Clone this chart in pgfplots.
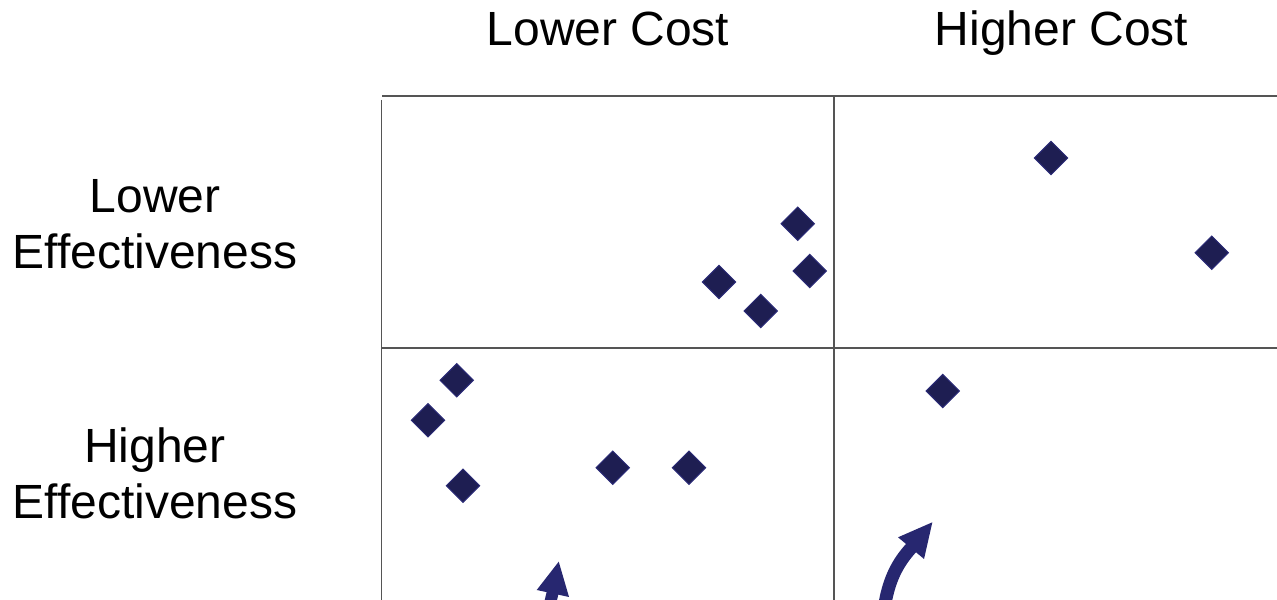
\documentclass[border=0pt]{standalone}
\usepackage{pgfplots}
\pgfplotsset{compat=1.18}
\usepackage{fontspec}
\setmainfont[Ligatures=NoCommon]{Liberation Sans}
\definecolor{markfill}{RGB}{30,30,82}
\definecolor{markedge}{RGB}{42,42,118}
\definecolor{arrowc}{RGB}{39,39,112}
\definecolor{gridc}{RGB}{85,85,85}
\begin{document}
\begin{tikzpicture}[x=0.5bp,y=0.5bp]
\begin{axis}[
  at={(381,0)}, anchor=south west,
  scale only axis, width=448bp, height=252bp,
  xmin=381, xmax=1277, ymin=0, ymax=504,
  hide axis, clip=true,
]
% quadrant lines
\draw[gridc, line width=0.65bp] (axis cs:382,504) -- (axis cs:1277,504);
\draw[gridc, line width=0.65bp] (axis cs:381,500) -- (axis cs:381,0);
\draw[gridc, line width=0.65bp] (axis cs:834,504) -- (axis cs:834,0);
\draw[gridc, line width=0.65bp] (axis cs:381,252) -- (axis cs:1277,252);
% arrows
\draw[arrowc, line width=6bp] (axis cs:548,-12) -- (axis cs:553,9);
\fill[arrowc] (axis cs:536.7,10) -- (axis cs:558.7,38.3) -- (axis cs:569,3) -- cycle;
\draw[arrowc, line width=6.5bp] (axis cs:884,-10) .. controls (axis cs:888,20) and (axis cs:898,38) .. (axis cs:912,53);
\fill[arrowc] (axis cs:898,62.7) -- (axis cs:932.3,77.7) -- (axis cs:924,41) -- cycle;
% data
\addplot[only marks, mark=square*, mark size=5.9bp,
  mark options={rotate=45, fill=markfill, draw=markedge, line width=0.5bp}]
  coordinates {
  (797.7,376.3) (809.7,329) (719,318) (760.7,289)
  (1051,442) (1211.7,347.3)
  (456.7,219.7) (428,179.7) (463,114.3) (612.7,132.3) (689,132.3)
  (942.7,209)
  };
\end{axis}
\begin{scope}[every node/.style={anchor=base, inner sep=0pt, font=\fontsize{24bp}{28bp}\selectfont}]
\node at (608,554.3) {Lower Cost};
\node at (1061.5,554.3) {Higher Cost};
\node at (155,387.3) {Lower};
\node at (155,331.7) {Effectiveness};
\node at (155,137.3) {Higher};
\node at (155,81.7) {Effectiveness};
\end{scope}
\pgfresetboundingbox
\useasboundingbox (0,0) rectangle (1277,600);
\end{tikzpicture}
\end{document}
